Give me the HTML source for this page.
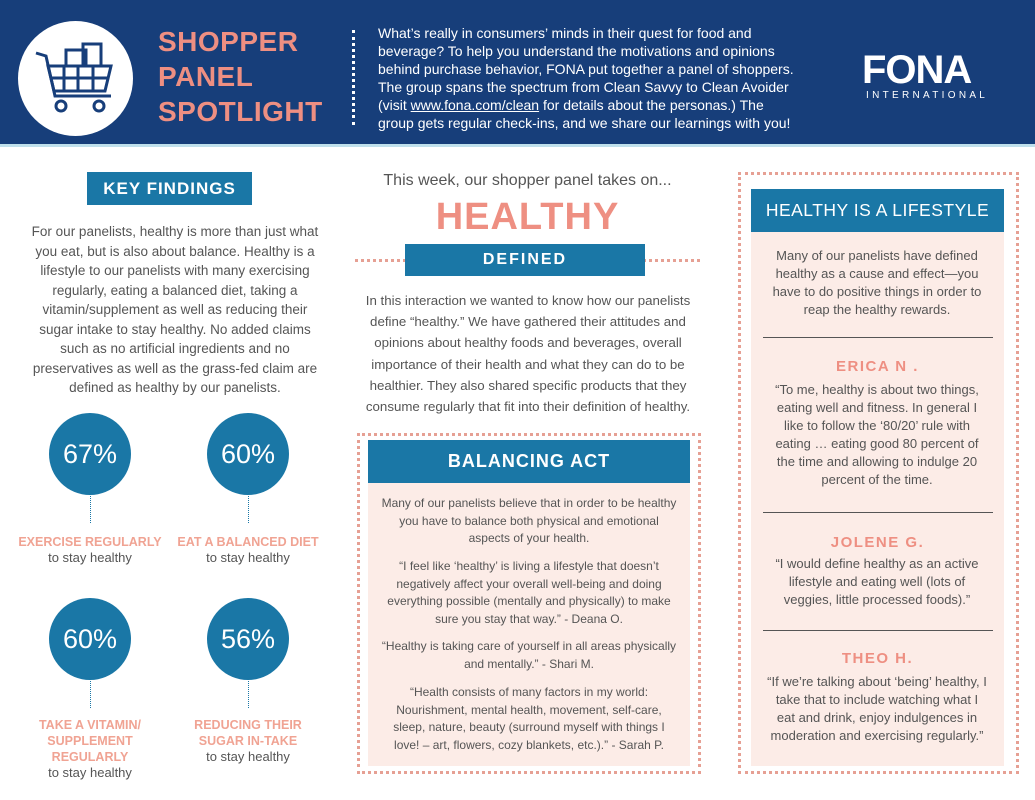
<!DOCTYPE html>
<html><head><meta charset="utf-8"><style>
*{margin:0;padding:0;box-sizing:border-box}
body{width:1035px;height:800px;background:#fff;font-family:"Liberation Sans",sans-serif;position:relative;overflow:hidden;color:#555}
.a{position:absolute}
.hdr{left:0;top:0;width:1035px;height:147px;background:#173e7a;border-bottom:3px solid #bfe0ec}
.title{left:158px;top:24px;color:#ee8f82;font-weight:bold;font-size:28px;line-height:35px;letter-spacing:0.5px}
.intro{left:378px;top:24px;width:418px;color:#fff;font-size:14px;line-height:18px}
.intro u{color:#fff}
.ban{background:#1a77a6;color:#fff;font-weight:bold;text-align:center;letter-spacing:1px}
.c{text-align:center}
.circ{width:82px;height:82px;border-radius:50%;background:#1a77a6;color:#fff;font-size:27px;line-height:82px;text-align:center}
.stem{width:0;height:46px;border-left:1px dotted #1a77a6}
.lbl{color:#f0a393;font-weight:bold;font-size:12.5px;line-height:16px;text-align:center;width:170px}
.lbl span{color:#555;font-weight:normal;font-size:13px}
.dot{border:3px dotted #e6a094}
.pink{background:#fcece7}
.q{font-size:12px;line-height:17.5px;text-align:center;color:#555}
.name{color:#ee8f82;font-weight:bold;font-size:15px;letter-spacing:1.5px;text-align:center}
.rt{font-size:13px;line-height:18px;text-align:center}
.hr{height:1px;background:#555;left:763px;width:230px}
</style></head><body>
<div class="a hdr"></div>
<div class="a" style="left:18px;top:21px;width:115px;height:115px;border-radius:50%;background:#fff"></div>
<svg class="a" style="left:33px;top:36px" width="85" height="85" viewBox="0 0 85 85" fill="none" stroke="#173e7a" stroke-width="3">
<path d="M3 17 L13 20 L22 60 L78 60"/><path d="M15 30 H78 L72 55 H21 Z"/><path d="M17 42 H75"/><path d="M31 30 V55 M45 30 V55 M60 30 V55"/>
<rect x="33" y="14" width="20" height="16"/><rect x="50" y="8" width="18" height="22"/>
<circle cx="28" cy="70" r="5"/><circle cx="66" cy="70" r="5"/></svg>
<div class="a title">SHOPPER<br>PANEL<br>SPOTLIGHT</div>
<div class="a" style="left:352px;top:30px;height:95px;border-left:3px dotted #fff"></div>
<div class="a intro">What’s really in consumers’ minds in their quest for food and beverage? To help you understand the motivations and opinions behind purchase behavior, FONA put together a panel of shoppers. The group spans the spectrum from Clean Savvy to Clean Avoider (visit <u>www.fona.com/clean</u> for details about the personas.) The group gets regular check-ins, and we share our learnings with you!</div>
<div class="a" style="left:862px;top:50px;color:#fff;font-weight:900;font-size:40px;line-height:40px;letter-spacing:-1px">FONA</div>
<div class="a" style="left:866px;top:90px;color:#fff;font-size:10px;letter-spacing:3.3px">INTERNATIONAL</div>

<div class="a ban" style="left:87px;top:172px;width:165px;height:33px;line-height:33px;font-size:17px">KEY FINDINGS</div>
<div class="a c" style="left:25px;top:222px;width:300px;font-size:13.5px;line-height:19.5px">For our panelists, healthy is more than just what you eat, but is also about balance. Healthy is a lifestyle to our panelists with many exercising regularly, eating a balanced diet, taking a vitamin/supplement as well as reducing their sugar intake to stay healthy. No added claims such as no artificial ingredients and no preservatives as well as the grass-fed claim are defined as healthy by our panelists.</div>

<div class="a circ" style="left:49px;top:413px">67%</div><div class="a stem" style="left:90px;top:477px"></div>
<div class="a lbl" style="left:5px;top:534px">EXERCISE REGULARLY<br><span>to stay healthy</span></div>
<div class="a circ" style="left:207px;top:413px">60%</div><div class="a stem" style="left:248px;top:477px"></div>
<div class="a lbl" style="left:163px;top:534px">EAT A BALANCED DIET<br><span>to stay healthy</span></div>
<div class="a circ" style="left:49px;top:598px">60%</div><div class="a stem" style="left:90px;top:662px"></div>
<div class="a lbl" style="left:5px;top:717px">TAKE A VITAMIN/<br>SUPPLEMENT<br>REGULARLY<br><span>to stay healthy</span></div>
<div class="a circ" style="left:207px;top:598px">56%</div><div class="a stem" style="left:248px;top:662px"></div>
<div class="a lbl" style="left:163px;top:717px">REDUCING THEIR<br>SUGAR IN-TAKE<br><span>to stay healthy</span></div>

<div class="a c" style="left:355px;top:172px;width:345px;font-size:16px;color:#555">This week, our shopper panel takes on...</div>
<div class="a c" style="left:355px;top:196px;width:345px;font-size:38px;font-weight:bold;color:#ee8f82;letter-spacing:1px">HEALTHY</div>
<div class="a" style="left:355px;top:259px;width:345px;border-top:3px dotted #e6a094"></div>
<div class="a ban" style="left:405px;top:244px;width:240px;height:32px;line-height:32px;font-size:16px;letter-spacing:2px">DEFINED</div>
<div class="a c" style="left:358px;top:290px;width:340px;font-size:13.3px;line-height:21.2px">In this interaction we wanted to know how our panelists define “healthy.” We have gathered their attitudes and opinions about healthy foods and beverages, overall importance of their health and what they can do to be healthier. They also shared specific products that they consume regularly that fit into their definition of healthy.</div>

<div class="a dot" style="left:357px;top:433px;width:344px;height:341px"></div>
<div class="a pink" style="left:368px;top:483px;width:322px;height:283px"></div>
<div class="a ban" style="left:368px;top:440px;width:322px;height:43px;line-height:43px;font-size:18px">BALANCING ACT</div>
<div class="a q" style="left:381px;top:495px;width:296px">Many of our panelists believe that in order to be healthy you have to balance both physical and emotional aspects of your health.</div>
<div class="a q" style="left:381px;top:558px;width:296px">“I feel like ‘healthy’ is living a lifestyle that doesn’t negatively affect your overall well-being and doing everything possible (mentally and physically) to make sure you stay that way.” - Deana O.</div>
<div class="a q" style="left:381px;top:638px;width:296px">“Healthy is taking care of yourself in all areas physically and mentally.” - Shari M.</div>
<div class="a q" style="left:381px;top:684px;width:296px">“Health consists of many factors in my world: Nourishment, mental health, movement, self-care, sleep, nature, beauty (surround myself with things I love! – art, flowers, cozy blankets, etc.).” - Sarah P.</div>

<div class="a dot" style="left:738px;top:172px;width:281px;height:602px"></div>
<div class="a pink" style="left:751px;top:232px;width:253px;height:534px"></div>
<div class="a ban" style="left:751px;top:189px;width:253px;height:43px;line-height:43px;font-size:17.5px;font-weight:normal;letter-spacing:0.5px">HEALTHY IS A LIFESTYLE</div>
<div class="a rt" style="left:766px;top:247px;width:222px">Many of our panelists have defined healthy as a cause and effect—you have to do positive things in order to reap the healthy rewards.</div>
<div class="a hr" style="top:337px"></div>
<div class="a name" style="left:751px;top:358px;width:253px">ERICA N .</div>
<div class="a rt" style="left:766px;top:381px;width:222px">“To me, healthy is about two things, eating well and fitness. In general I like to follow the ‘80/20’ rule with eating … eating good 80 percent of the time and allowing to indulge 20 percent of the time.</div>
<div class="a hr" style="top:512px"></div>
<div class="a name" style="left:751px;top:534px;width:253px">JOLENE G.</div>
<div class="a rt" style="left:766px;top:555px;width:222px">“I would define healthy as an active lifestyle and eating well (lots of veggies, little processed foods).”</div>
<div class="a hr" style="top:630px"></div>
<div class="a name" style="left:751px;top:650px;width:253px">THEO H.</div>
<div class="a rt" style="left:766px;top:673px;width:222px">“If we’re talking about ‘being’ healthy, I take that to include watching what I eat and drink, enjoy indulgences in moderation and exercising regularly.”</div>
</body></html>
